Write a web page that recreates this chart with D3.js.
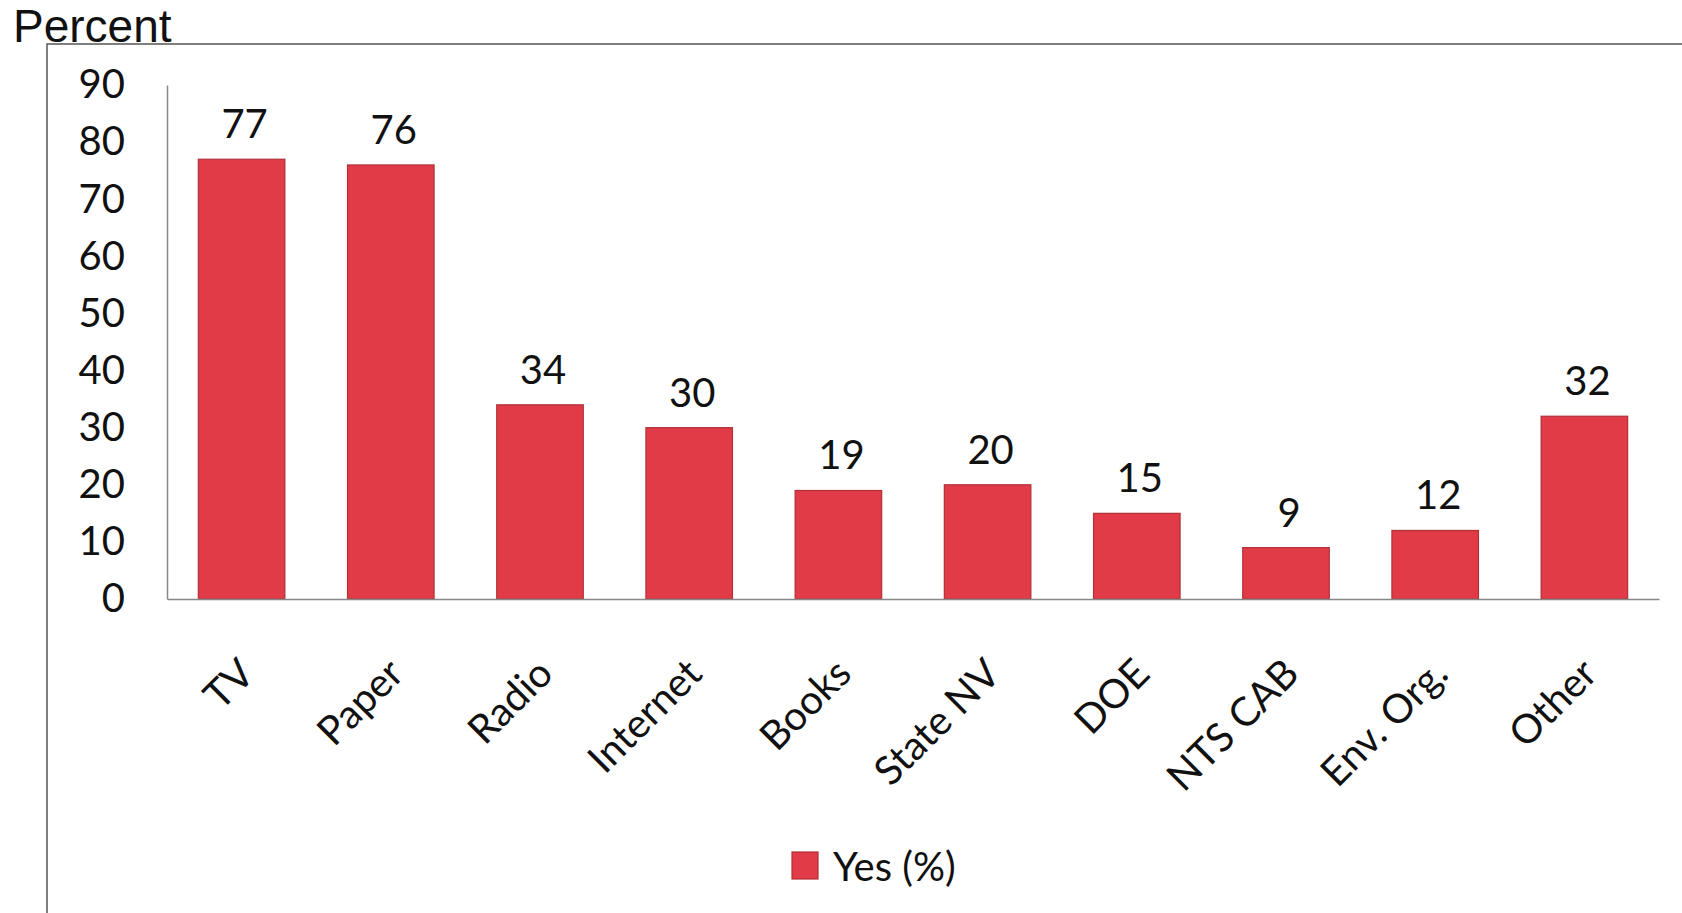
<!DOCTYPE html>
<html><head><meta charset="utf-8">
<script src="https://cdn.jsdelivr.net/npm/d3@7"></script>
<style>body{margin:0;background:#fff;}svg{display:block;}</style>
</head><body>
<script>
const categories = ["TV","Paper","Radio","Internet","Books","State NV","DOE","NTS CAB","Env. Org.","Other"];
const values = [77,76,34,30,19,20,15,9,12,32];
const yTicks = [0,10,20,30,40,50,60,70,80,90];
const seriesName = "Yes (%)";
const yTitle = "Percent";

const W = 1682, H = 913;
const svg = d3.select("body").append("svg").attr("width", W).attr("height", H);

// frame
svg.append("path").attr("d", `M47,${H} L47,44 L${W},44`).attr("fill","none").attr("stroke","#555").attr("stroke-width",1.5);

const x = d3.scaleBand().domain(categories).range([167,1659]).paddingInner(0.42).paddingOuter(0.21);
const y = d3.scaleLinear().domain([0,90]).range([599,85]);

const fontB = "Lato, Carlito, sans-serif";

// y axis
const ya = svg.append("g").attr("transform","translate(167,0)")
  .call(d3.axisLeft(y).tickValues(yTicks).tickSize(0).tickPadding(42));
ya.select(".domain").attr("stroke","#888").attr("stroke-width",1.5);
ya.selectAll("text").attr("font-family",fontB).attr("font-size",40).attr("fill","#111");

// bars
svg.append("g").selectAll("rect").data(values).join("rect")
  .attr("x",(d,i)=>x(categories[i]))
  .attr("width",x.bandwidth())
  .attr("y",d=>y(d))
  .attr("height",d=>y(0)-y(d))
  .attr("fill","#e23b48")
  .attr("stroke","#b03038")
  .attr("stroke-width",1.2);

// x axis
const xa = svg.append("g").attr("transform","translate(0,599)")
  .call(d3.axisBottom(x).tickSize(0).tickFormat(""));
xa.select(".domain").attr("stroke","#888").attr("stroke-width",1.5);

// x labels
svg.append("g").selectAll("text").data(categories).join("text")
  .attr("transform",d=>`translate(${x(d)+x.bandwidth()/2+15},676) rotate(-45)`)
  .attr("text-anchor","end")
  .attr("font-family",fontB).attr("font-size",40).attr("fill","#111")
  .text(d=>d);

// value labels
svg.append("g").selectAll("text").data(values).join("text")
  .attr("x",(d,i)=>x(categories[i])+x.bandwidth()/2+3)
  .attr("y",d=>y(d)-21)
  .attr("text-anchor","middle")
  .attr("font-family",fontB).attr("font-size",40).attr("fill","#111")
  .text(d=>d);

// y title
svg.append("text").attr("x",13).attr("y",42)
  .attr("font-family","'Liberation Sans', Arial, sans-serif").attr("font-size",46).attr("fill","#111")
  .text(yTitle);

// legend
const lg = svg.append("g");
lg.append("rect").attr("x",792).attr("y",852).attr("width",26).attr("height",27)
  .attr("fill","#e23b48").attr("stroke","#b03038").attr("stroke-width",1.2);
lg.append("text").attr("x",833).attr("y",881)
  .attr("font-family",fontB).attr("font-size",40).attr("fill","#111").text(seriesName);
</script>
</body></html>
